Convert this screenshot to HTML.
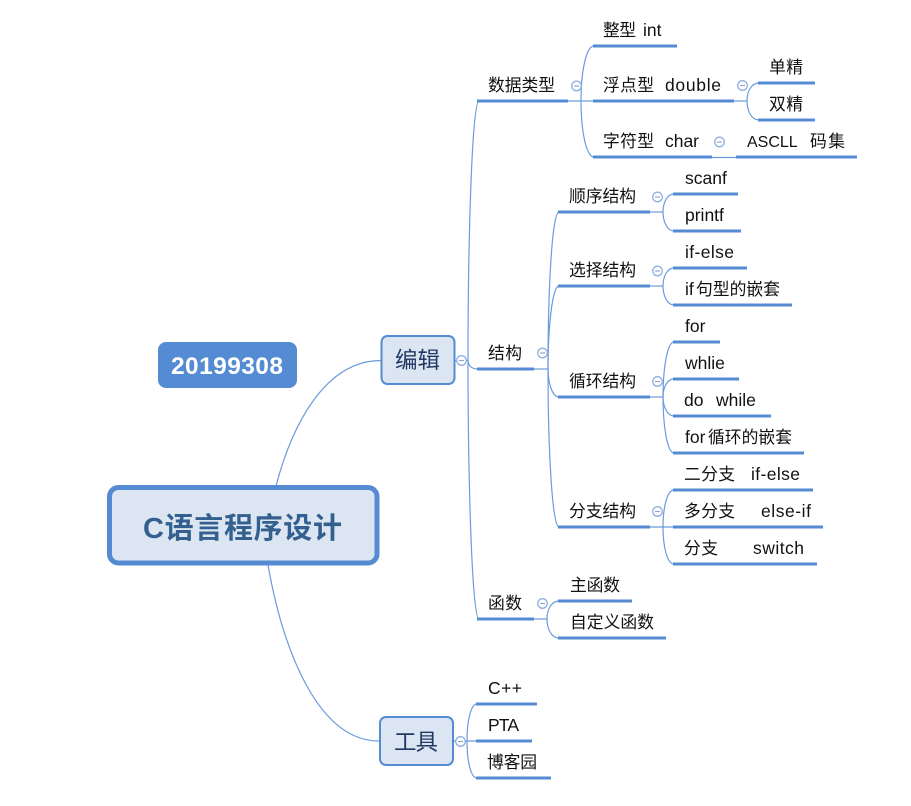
<!DOCTYPE html>
<html><head><meta charset="utf-8">
<style>
html,body{margin:0;padding:0;background:#fff;width:911px;height:806px;overflow:hidden}
svg{display:block}
text{font-family:"Liberation Sans","Noto Sans CJK SC",sans-serif;font-size:17.5px;fill:#111}
.c{font-family:"Noto Sans CJK SC","Liberation Sans",sans-serif;font-size:16.8px}
.u{stroke:#548bd3;stroke-width:3;fill:none}
.t{stroke:#6b9bdc;stroke-width:1.2;fill:none}
.o{fill:#fff;stroke:#8fb0e0;stroke-width:1.3}
.d{stroke:#8fa8cc;stroke-width:1.2}
</style></head><body>
<svg width="911" height="806" viewBox="0 0 911 806" xmlns="http://www.w3.org/2000/svg">
<g class="t">
<path d="M276,486C292,425 325,360.500 381,360.500"/>
<path d="M268,565C283,650 318,741 379,741"/>
<path d="M455,360.500H468"/>
<path d="M468,360C468,240 472,101 479,101"/>
<path d="M468,360C468,480 472,619 479,619"/>
<path d="M468,360C468,365 471,369 478,369"/>
<path d="M453,741H476"/>
<path d="M467,741C467,720 471,704 477,704"/>
<path d="M467,741C467,762 471,778 477,778"/>
<path d="M568,101H593"/>
<path d="M581,101C581,72 586,46 594,46"/>
<path d="M581,101C581,130 586,157 594,157"/>
<path d="M734,101H747"/>
<path d="M747,101C747,92 751,83 759,83"/>
<path d="M747,101C747,110 751,120 759,120"/>
<path d="M712,157.500H736"/>
<path d="M534,369H548"/>
<path d="M548,369C548,290 552,212 559,212"/>
<path d="M548,369C548,330 552,286 559,286"/>
<path d="M548,369C548,382 552,397 559,397"/>
<path d="M548,369C548,445 552,527 559,527"/>
<path d="M650,212H663"/>
<path d="M663,212C663,203 667,194 674,194"/>
<path d="M663,212C663,221 667,231 674,231"/>
<path d="M650,286H663"/>
<path d="M663,286C663,277 667,268 674,268"/>
<path d="M663,286C663,295 667,305 674,305"/>
<path d="M650,397H663"/>
<path d="M663,397C663,370 667,342 674,342"/>
<path d="M663,397C663,388 667,379 674,379"/>
<path d="M663,397C663,406 667,416 674,416"/>
<path d="M663,397C663,424 667,453 674,453"/>
<path d="M650,527H673"/>
<path d="M663,527C663,508 667,490 674,490"/>
<path d="M663,527C663,546 667,564 674,564"/>
<path d="M534,619H547"/>
<path d="M547,619C547,610 551,601 559,601"/>
<path d="M547,619C547,628 551,638 559,638"/>
</g>
<g class="u">
<path d="M477,101H568M593,46H677M593,101H734M593,157H712M758,83H815M758,120H815M736,157H857"/>
<path d="M558,212H650M673,194H738M673,231H741M558,286H650M673,268H747M673,305H792"/>
<path d="M477,369H534M558,397H650M673,342H720M673,379H739M673,416H771M673,453H804"/>
<path d="M558,527H650M673,490H813M673,527H823M673,564H817"/>
<path d="M477,619H534M558,601H632M558,638H666M476,704H537M476,741H532M476,778H551"/>
</g>
<g>
<circle class="o" cx="576.500" cy="86" r="4.800"/><path class="d" d="M574,86H579"/>
<circle class="o" cx="742.500" cy="85.500" r="4.800"/><path class="d" d="M740,85.500H745"/>
<circle class="o" cx="719.500" cy="142" r="4.800"/><path class="d" d="M717,142H722"/>
<circle class="o" cx="657.500" cy="197" r="4.800"/><path class="d" d="M655,197H660"/>
<circle class="o" cx="657.500" cy="271" r="4.800"/><path class="d" d="M655,271H660"/>
<circle class="o" cx="657.500" cy="381.500" r="4.800"/><path class="d" d="M655,381.500H660"/>
<circle class="o" cx="657.500" cy="511.500" r="4.800"/><path class="d" d="M655,511.500H660"/>
<circle class="o" cx="542.500" cy="353" r="4.800"/><path class="d" d="M540,353H545"/>
<circle class="o" cx="542.500" cy="603.500" r="4.800"/><path class="d" d="M540,603.500H545"/>
<circle class="o" cx="461.500" cy="360.500" r="4.800"/><path class="d" d="M459,360.500H464"/>
<circle class="o" cx="460.500" cy="741.500" r="4.800"/><path class="d" d="M458,741.500H463"/>
</g>
<rect x="158" y="342" width="139" height="46" rx="8" fill="#548bd3"/>
<text x="171" y="374" textLength="112" style="font-size:24.500px;font-weight:bold;fill:#fff">20199308</text>
<rect x="109.500" y="487.500" width="267.500" height="75.500" rx="9" fill="#dce6f2" stroke="#548bd3" stroke-width="5"/>
<text x="143" y="538" textLength="199" style="font-size:29px;font-weight:bold;fill:#34608f">C语言程序设计</text>
<rect x="381.500" y="336" width="73" height="48" rx="6" fill="#dce6f2" stroke="#548bd3" stroke-width="2"/>
<text class="c" x="395" y="368" textLength="45" style="font-size:22.500px;fill:#1f3864">编辑</text>
<rect x="380" y="717" width="73" height="48" rx="6" fill="#dce6f2" stroke="#548bd3" stroke-width="2"/>
<text class="c" x="394" y="750" textLength="44" style="font-size:22.500px;fill:#1f3864">工具</text>

<text class="c" x="488" y="91" textLength="67">数据类型</text>
<text class="c" x="603" y="36" textLength="33">整型</text><text x="643" y="36">int</text>
<text class="c" x="603" y="91" textLength="51">浮点型</text><text x="665" y="91" textLength="56">double</text>
<text class="c" x="603" y="147" textLength="51">字符型</text><text x="665" y="147" textLength="34">char</text>
<text class="c" x="769" y="73" textLength="34">单精</text>
<text class="c" x="769" y="110" textLength="34">双精</text>
<text x="747" y="147" style="font-size:16px">ASCLL</text><text class="c" x="810" y="147" textLength="35">码集</text>

<text class="c" x="569" y="202" textLength="67">顺序结构</text>
<text x="685" y="184">scanf</text>
<text x="685" y="221">printf</text>
<text class="c" x="569" y="276" textLength="67">选择结构</text>
<text x="685" y="258" textLength="49">if-else</text>
<text x="685" y="295">if</text><text class="c" x="696" y="295" textLength="84">句型的嵌套</text>

<text class="c" x="488" y="359" textLength="34">结构</text>
<text class="c" x="569" y="387" textLength="67">循环结构</text>
<text x="685" y="332">for</text>
<text x="685" y="369">whlie</text>
<text x="684" y="406">do</text><text x="716" y="406">while</text>
<text x="685" y="443">for</text><text class="c" x="708" y="443" textLength="84">循环的嵌套</text>

<text class="c" x="569" y="517" textLength="67">分支结构</text>
<text class="c" x="684" y="480" textLength="51">二分支</text><text x="751" y="480" textLength="49">if-else</text>
<text class="c" x="684" y="517" textLength="51">多分支</text><text x="761" y="517" textLength="50">else-if</text>
<text class="c" x="684" y="554" textLength="34">分支</text><text x="753" y="554" textLength="51">switch</text>

<text class="c" x="488" y="609" textLength="34">函数</text>
<text class="c" x="570" y="591" textLength="50">主函数</text>
<text class="c" x="570" y="628" textLength="84">自定义函数</text>
<text x="488" y="694" textLength="34">C++</text>
<text x="488" y="731" textLength="31">PTA</text>
<text class="c" x="487" y="768" textLength="50">博客园</text>
</svg>
</body></html>
